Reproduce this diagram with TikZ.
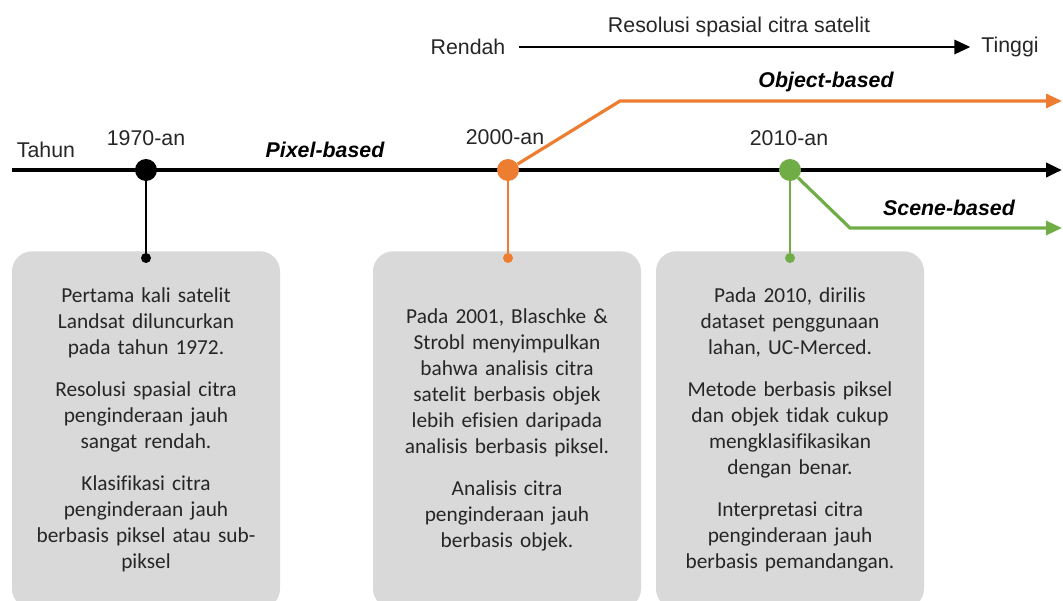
\documentclass[tikz,border=0pt]{standalone}
\usepackage{fontspec}
\setmainfont{Carlito}[Ligatures={NoCommon}]
\newfontfamily\arialf{Liberation Sans}
\usetikzlibrary{arrows.meta,positioning}
\definecolor{txt}{HTML}{262626}
\definecolor{boxgray}{HTML}{D9D9D9}
\definecolor{orangeline}{HTML}{ED7D31}
\definecolor{greenline}{HTML}{70AD47}

\begin{document}
\begin{tikzpicture}[
  x=0.75pt, y=-0.75pt,
  lab/.style={font=\arialf\fontsize{16}{19}\selectfont, text=txt},
  blab/.style={font=\arialf\bfseries\itshape\fontsize{16}{19}\selectfont, text=black},
  infobox/.style={rectangle, rounded corners=15pt, fill=boxgray, align=center,
                  text width=168pt, inner xsep=16.5pt, minimum height=268pt,
                  text=txt, font=\fontsize{16}{19.5}\selectfont},
  bigdot/.style={circle, minimum size=16.5pt, inner sep=0pt},
  smalldot/.style={circle, minimum size=7.5pt, inner sep=0pt},
  arr/.style={-{Triangle[length=12pt,width=10.5pt]}},
  stem/.style={line width=2.2pt}
]
\useasboundingbox (0,0) rectangle (1063,600);

% information boxes
\node[infobox] (box70) at (146,430) {Pertama kali satelit\\Landsat diluncurkan\\pada tahun 1972.\\[12pt]
  Resolusi spasial citra\\penginderaan jauh\\sangat rendah.\\[12pt]
  Klasifikasi citra\\penginderaan jauh\\berbasis piksel atau sub-\\piksel};
\node[infobox] (box00) at (507,430) {Pada 2001, Blaschke \&\\Strobl menyimpulkan\\bahwa analisis citra\\satelit berbasis objek\\lebih efisien daripada\\analisis berbasis piksel.\\[12pt]
  Analisis citra\\penginderaan jauh\\berbasis objek.};
\node[infobox] (box10) at (790,430) {Pada 2010, dirilis\\dataset penggunaan\\lahan, UC-Merced.\\[12pt]
  Metode berbasis piksel\\dan objek tidak cukup\\mengklasifikasikan\\dengan benar.\\[12pt]
  Interpretasi citra\\penginderaan jauh\\berbasis pemandangan.};

% resolution scale
\node[lab, inner xsep=10pt] (rendah) at (468,47) {Rendah};
\node[lab, inner xsep=8pt] (tinggi) at (1010,47) {Tinggi};
\node[lab] (resolusi) at (739,27) {Resolusi spasial citra satelit};
\draw[arr, line width=2.2pt] (rendah.east) -- (tinggi.west);

% timeline
\coordinate (start) at (12,170);
\coordinate (tip) at (1062,170);
\node[lab] (tahun) at (46,150) {Tahun};
\draw[arr, line width=3pt] (start) -- (tip);

\node[bigdot, fill=black] (d70) at (146,170) {};
\node[bigdot, fill=orangeline] (d00) at (508,170) {};
\node[bigdot, fill=greenline] (d10) at (790,170) {};
\node[lab] (l70) at (146,138) {1970-an};
\node[lab] (l00) at (505,137) {2000-an};
\node[lab] (l10) at (789,138) {2010-an};

\node[smalldot, fill=black] (e70) at (146,258) {};
\node[smalldot, fill=orangeline] (e00) at (508,258) {};
\node[smalldot, fill=greenline] (e10) at (790,258) {};
\draw[stem, black] (d70) -- (e70);
\draw[stem, orangeline, line width=1.8pt] (d00) -- (e00);
\draw[stem, greenline, line width=1.8pt] (d10) -- (e10);

% branches
\coordinate (obend) at (620,101);
\coordinate (obtip) at (1062,101);
\coordinate (scbend) at (850,228);
\coordinate (sctip) at (1062,228);
\draw[arr, orangeline, line width=2.4pt] (d00) -- (obend) -- (obtip);
\draw[arr, greenline, line width=2.4pt] (d10) -- (scbend) -- (sctip);

\node[blab] (pixel) at (325,150) {Pixel-based};
\node[blab] (object) at (826,82) {Object-based};
\node[blab] (scene) at (949,208) {Scene-based};
\end{tikzpicture}
\end{document}
